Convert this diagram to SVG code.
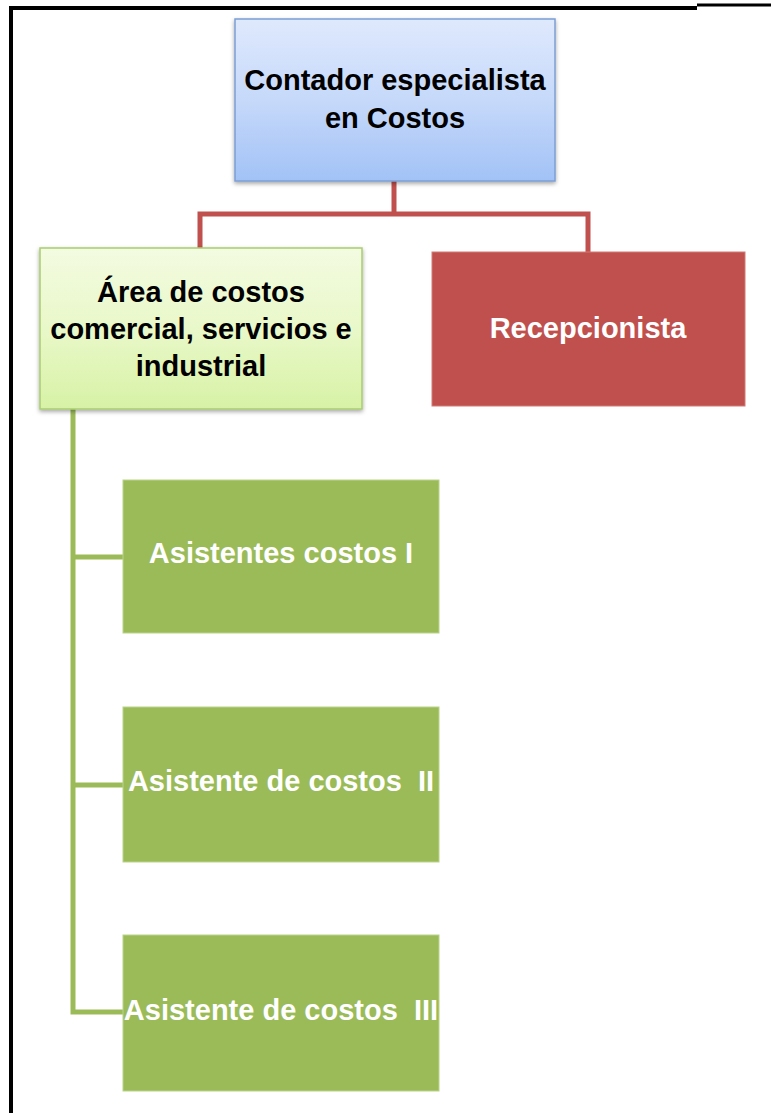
<svg xmlns="http://www.w3.org/2000/svg" width="771" height="1113" viewBox="0 0 771 1113">
<style>
.t{font-family:"Liberation Sans",Arial,sans-serif;font-weight:bold;font-size:29px;text-anchor:middle;white-space:pre}
.dk{fill:#000}
.wh{fill:#fff}
.red{stroke:#c0504d;stroke-width:5;fill:none}
.grn{stroke:#9bbb59;stroke-width:5;fill:none}
.gbox{fill:#9bbb59;stroke:#b9d48a;stroke-width:1}
</style>
<defs>
<linearGradient id="gb" x1="0" y1="0" x2="0" y2="1">
<stop offset="0" stop-color="#dfe9fd"/>
<stop offset="0.5" stop-color="#c6d9fa"/>
<stop offset="1" stop-color="#a2c2f6"/>
</linearGradient>
<linearGradient id="gg" x1="0" y1="0" x2="0" y2="1">
<stop offset="0" stop-color="#f3fbe1"/>
<stop offset="0.5" stop-color="#e9f8c9"/>
<stop offset="1" stop-color="#d7f2a6"/>
</linearGradient>
<filter id="sh" x="-10%" y="-10%" width="120%" height="125%">
<feDropShadow dx="0" dy="2" stdDeviation="2" flood-color="#000" flood-opacity="0.35"/>
</filter>
</defs>
<rect width="771" height="1113" fill="#fff"/>
<g id="frame">
<path d="M11 1113 V8 H697" stroke="#000" stroke-width="4" fill="none"/>
<line x1="697" y1="5" x2="771" y2="5" stroke="#000" stroke-width="3"/>
</g>
<g id="connectors">
<path class="red" d="M394 181 V214 M200 248 V214 H588 V252"/>
<path class="grn" d="M73 409 V1012 H123 M73 557 H123 M73 785 H123"/>
</g>
<g id="contador">
<rect x="235" y="19" width="320" height="162" fill="url(#gb)" stroke="#7c9fd3" stroke-width="1.5" filter="url(#sh)"/>
<text class="t dk" x="395" y="90">Contador especialista</text>
<text class="t dk" x="395" y="128">en Costos</text>
</g>
<g id="area">
<rect x="40" y="248" width="322" height="161" fill="url(#gg)" stroke="#a9cd70" stroke-width="1.5" filter="url(#sh)"/>
<text class="t dk" x="201" y="302">Área de costos</text>
<text class="t dk" x="201" y="339">comercial, servicios e</text>
<text class="t dk" x="201" y="376">industrial</text>
</g>
<g id="recepcionista">
<rect x="432" y="252" width="313" height="154" fill="#c0504d" stroke="#d27a77" stroke-width="1"/>
<text class="t wh" x="588" y="338">Recepcionista</text>
</g>
<g id="asistente1">
<rect class="gbox" x="123" y="480" width="316" height="153"/>
<text class="t wh" x="281" y="563">Asistentes costos I</text>
</g>
<g id="asistente2">
<rect class="gbox" x="123" y="707" width="316" height="155"/>
<text class="t wh" x="281" y="791">Asistente de costos  II</text>
</g>
<g id="asistente3">
<rect class="gbox" x="123" y="935" width="316" height="156"/>
<text class="t wh" x="281" y="1020">Asistente de costos  III</text>
</g>
</svg>
